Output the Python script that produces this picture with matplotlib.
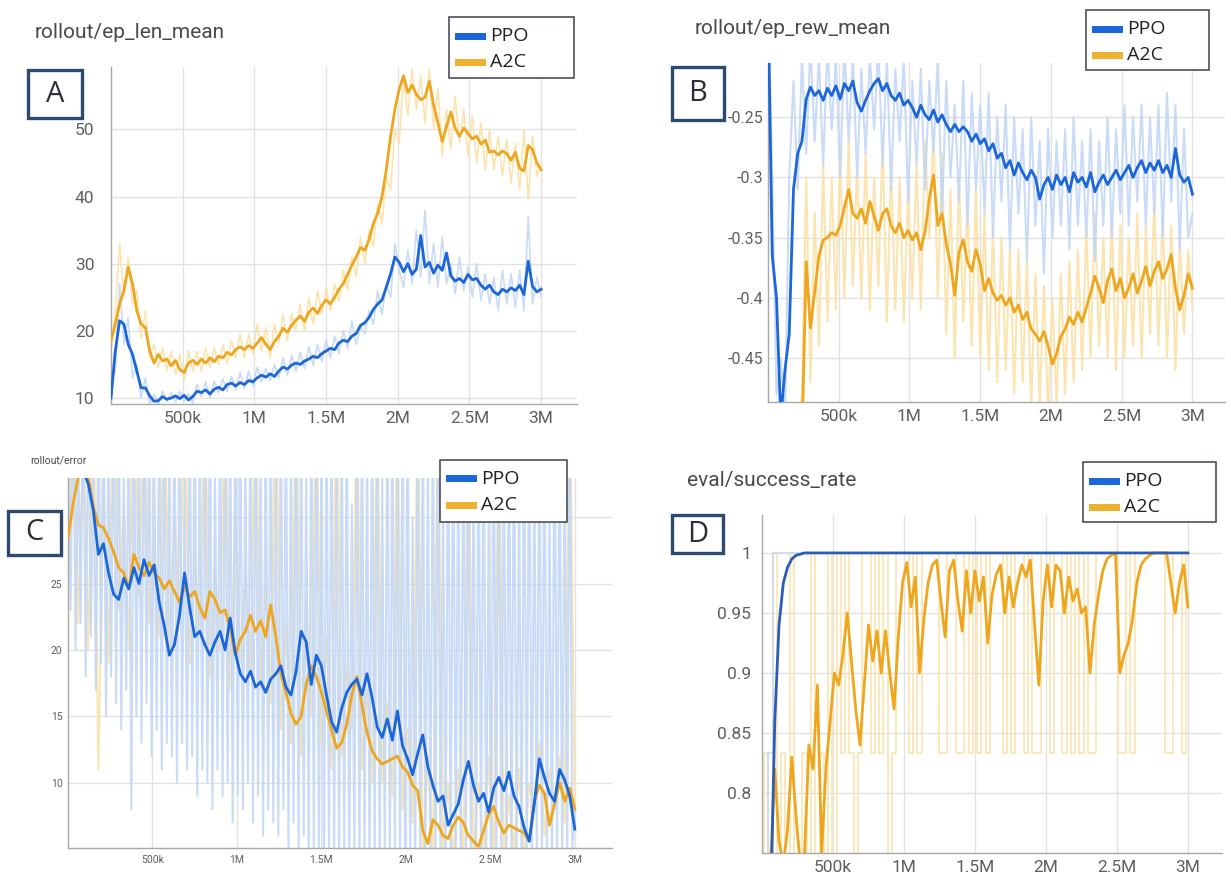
import numpy as np
import matplotlib.pyplot as plt
from matplotlib.patches import Rectangle

LAST_STEP = 3_000_000

# --- A: rollout/ep_len_mean (samples every 30k steps) ---
ep_len_ppo = [10, 17, 21.5, 21, 18, 16.5, 14, 11.5, 11.5, 10.3, 9.5, 9.6, 10.2, 9.8, 10.0, 10.3, 9.9,
              10.4, 9.7, 10.2, 11.0, 10.8, 11.2, 10.6, 11.3, 11.6, 11.2, 12.0, 12.2, 11.8, 12.3, 12.0,
              12.6, 12.4, 13.0, 13.4, 13.1, 13.6, 13.2, 14.0, 14.6, 14.3, 14.9, 15.2, 15.0, 15.5, 15.8,
              16.2, 16.0, 16.6, 17.0, 17.4, 17.2, 18.2, 18.6, 18.4, 19.2, 19.6, 20.8, 21.2, 22.0, 23.2,
              24.0, 24.6, 26.5, 28.5, 31.0, 30.2, 28.8, 30.0, 28.4, 29.2, 34.2, 29.5, 30.2, 28.6, 29.8,
              29.0, 31.6, 28.2, 27.4, 27.8, 27.2, 28.4, 27.6, 27.8, 26.8, 26.2, 26.8, 25.8, 25.4, 26.2,
              25.8, 26.4, 26.0, 26.8, 25.4, 30.4, 26.6, 25.8, 26.2]
ep_len_ppo_raw = [12, 14, 27, 18, 22, 13, 15, 10, 13, 9, 10.5, 9, 11, 9.5, 10.8, 9.4, 11, 9.6, 10.6, 9.2,
                  12, 10.2, 12.4, 10, 12.5, 10.8, 12.8, 11, 13.2, 11.2, 13.8, 11.4, 14, 11.8, 14.6, 12.4,
                  14.4, 12.6, 15, 13, 16, 13.4, 16.4, 14, 16.8, 14.4, 17.6, 14.8, 18, 15.4, 18.6, 16, 19.2,
                  16.6, 20, 17.4, 21.5, 18, 20.6, 19.6, 23, 21, 26, 22.4, 27, 25, 33, 29, 26.5, 32, 27, 35,
                  28, 38, 27, 33, 26.5, 34, 27, 30, 25.5, 31, 26, 29.5, 25, 30, 24.5, 28.5, 24, 28, 23, 29,
                  24, 28.5, 23.5, 29, 23, 37, 24, 28, 25]
ep_len_a2c = [18.5, 21, 24, 26, 29.5, 27, 23, 21, 20.5, 17, 15.2, 16.5, 15.5, 15.8, 14.8, 15.6, 14.2,
              13.8, 15.2, 15.6, 15.0, 15.8, 15.2, 16.0, 15.4, 16.2, 16.0, 16.8, 16.4, 17.2, 17.6, 17.2,
              17.8, 17.4, 18.2, 19.0, 18.0, 17.2, 18.4, 19.2, 20.4, 19.8, 20.8, 21.6, 22.2, 21.4, 22.8,
              23.4, 22.6, 23.8, 24.6, 24.0, 25.0, 26.2, 27.0, 28.4, 29.8, 31.0, 32.4, 32.0, 33.6, 36.0,
              37.5, 40.0, 44.0, 49.0, 53.0, 56.0, 58.0, 55.5, 56.6, 55.2, 54.4, 54.8, 57.2, 53.6, 51.0,
              48.2, 50.4, 52.6, 50.2, 49.0, 50.2, 49.4, 48.6, 49.0, 47.8, 48.4, 46.6, 46.8, 46.2, 46.8,
              46.4, 45.4, 46.6, 44.2, 43.8, 47.6, 47.0, 45.0, 44.0]
ep_len_a2c_raw = [17, 23, 33, 25, 31, 24, 26, 19, 23, 16, 18, 14.5, 17.5, 14, 17, 13.5, 16.5, 12.5, 17, 14,
                  17, 14, 17.5, 14.5, 17.5, 15, 18, 15, 18.5, 16, 19.5, 16, 19.5, 16.5, 21, 17, 20.5, 16,
                  21, 18, 22.5, 18.5, 22.5, 20, 24, 20, 25, 21, 26, 22.5, 26.5, 23, 27, 24.5, 29, 26, 31,
                  28, 34, 30, 35, 32.5, 39, 36, 43, 41, 50, 48, 58, 52, 59, 53, 58, 51, 59, 50, 56, 46, 53,
                  47, 55, 48, 53, 46, 52, 45, 51, 44, 50, 44, 49, 43, 48.5, 42, 48, 41, 50, 39.5, 49, 43, 45]

# --- B: rollout/ep_rew_mean ---
ep_rew_ppo = [-0.15, -0.365, -0.40, -0.50, -0.46, -0.43, -0.31, -0.28, -0.27, -0.235, -0.225, -0.232,
              -0.228, -0.236, -0.226, -0.232, -0.224, -0.235, -0.222, -0.228, -0.220, -0.238, -0.245,
              -0.236, -0.228, -0.222, -0.218, -0.228, -0.222, -0.232, -0.236, -0.230, -0.240, -0.236,
              -0.242, -0.250, -0.240, -0.248, -0.252, -0.244, -0.254, -0.248, -0.256, -0.262, -0.256,
              -0.262, -0.258, -0.262, -0.270, -0.264, -0.272, -0.268, -0.278, -0.272, -0.284, -0.280,
              -0.292, -0.286, -0.298, -0.288, -0.296, -0.302, -0.294, -0.300, -0.318, -0.306, -0.300,
              -0.310, -0.298, -0.306, -0.300, -0.312, -0.296, -0.304, -0.300, -0.308, -0.296, -0.312,
              -0.304, -0.298, -0.306, -0.300, -0.294, -0.302, -0.296, -0.290, -0.300, -0.292, -0.286,
              -0.296, -0.288, -0.294, -0.286, -0.296, -0.290, -0.300, -0.276, -0.298, -0.304, -0.300, -0.314]
ep_rew_ppo_raw = [-0.15, -0.30, -0.48, -0.45, -0.50, -0.30, -0.22, -0.31, -0.20, -0.28, -0.19, -0.27,
                  -0.20, -0.29, -0.19, -0.26, -0.20, -0.30, -0.19, -0.27, -0.20, -0.30, -0.21, -0.28,
                  -0.20, -0.26, -0.19, -0.29, -0.20, -0.31, -0.21, -0.27, -0.20, -0.32, -0.22, -0.29,
                  -0.21, -0.31, -0.22, -0.28, -0.20, -0.33, -0.22, -0.30, -0.24, -0.32, -0.22, -0.34,
                  -0.23, -0.31, -0.24, -0.33, -0.23, -0.35, -0.25, -0.32, -0.24, -0.36, -0.25, -0.33,
                  -0.26, -0.37, -0.25, -0.34, -0.27, -0.38, -0.26, -0.35, -0.27, -0.34, -0.26, -0.36,
                  -0.25, -0.34, -0.27, -0.35, -0.26, -0.37, -0.27, -0.34, -0.25, -0.35, -0.26, -0.33,
                  -0.24, -0.34, -0.25, -0.32, -0.24, -0.34, -0.25, -0.33, -0.24, -0.35, -0.23, -0.32,
                  -0.24, -0.36, -0.26, -0.35, -0.33]
ep_rew_a2c = [-0.60, -0.60, -0.60, -0.60, -0.60, -0.60, -0.58, -0.55, -0.52, -0.37, -0.425, -0.395,
              -0.365, -0.352, -0.350, -0.346, -0.348, -0.340, -0.325, -0.310, -0.330, -0.334, -0.326,
              -0.338, -0.320, -0.332, -0.344, -0.330, -0.326, -0.340, -0.346, -0.338, -0.350, -0.344,
              -0.352, -0.346, -0.360, -0.345, -0.318, -0.298, -0.340, -0.330, -0.355, -0.372, -0.398,
              -0.362, -0.352, -0.370, -0.378, -0.360, -0.372, -0.394, -0.384, -0.396, -0.402, -0.398,
              -0.406, -0.400, -0.412, -0.406, -0.418, -0.412, -0.426, -0.430, -0.436, -0.428, -0.440,
              -0.455, -0.446, -0.432, -0.426, -0.416, -0.422, -0.412, -0.420, -0.408, -0.396, -0.382,
              -0.392, -0.404, -0.386, -0.376, -0.394, -0.384, -0.400, -0.392, -0.380, -0.396, -0.386,
              -0.374, -0.390, -0.378, -0.370, -0.384, -0.376, -0.364, -0.392, -0.410, -0.398, -0.380, -0.392]
ep_rew_a2c_raw = [-0.60, -0.60, -0.60, -0.60, -0.60, -0.60, -0.60, -0.50, -0.48, -0.30, -0.47, -0.33,
                  -0.44, -0.29, -0.42, -0.30, -0.41, -0.28, -0.40, -0.27, -0.39, -0.29, -0.40, -0.28,
                  -0.41, -0.30, -0.39, -0.27, -0.42, -0.29, -0.41, -0.30, -0.42, -0.31, -0.40, -0.29,
                  -0.41, -0.27, -0.35, -0.26, -0.40, -0.28, -0.43, -0.31, -0.45, -0.30, -0.42, -0.32,
                  -0.44, -0.31, -0.45, -0.33, -0.46, -0.34, -0.47, -0.35, -0.46, -0.36, -0.48, -0.36,
                  -0.47, -0.37, -0.49, -0.38, -0.49, -0.39, -0.50, -0.40, -0.49, -0.38, -0.48, -0.37,
                  -0.47, -0.36, -0.46, -0.34, -0.45, -0.33, -0.44, -0.35, -0.45, -0.33, -0.46, -0.34,
                  -0.45, -0.35, -0.44, -0.33, -0.45, -0.34, -0.43, -0.32, -0.44, -0.33, -0.45, -0.34,
                  -0.46, -0.35, -0.43, -0.36, -0.41]

# --- C: rollout/error ---
error_ppo = [36, 34, 34, 33.5, 32.5, 30.5, 27.2, 28.0, 25.8, 24.2, 23.8, 25.4, 24.6, 26.2, 25.0, 26.8,
             25.6, 26.4, 23.6, 21.8, 19.6, 20.4, 22.6, 25.8, 23.2, 21.0, 21.4, 20.4, 19.6, 20.6, 21.4,
             20.0, 22.4, 19.8, 18.2, 17.6, 18.4, 17.2, 17.6, 16.8, 17.8, 18.2, 18.8, 17.2, 16.6, 18.4,
             21.4, 20.6, 17.4, 19.6, 18.8, 16.6, 14.6, 13.8, 15.6, 16.8, 17.4, 17.8, 16.6, 18.2, 16.4,
             14.2, 13.4, 14.8, 13.2, 15.4, 12.8, 11.8, 10.6, 12.2, 13.6, 11.2, 9.8, 8.6, 9.0, 6.8, 7.6,
             8.4, 10.2, 11.6, 9.8, 8.6, 9.2, 7.8, 9.6, 10.4, 9.4, 10.8, 9.0, 8.2, 6.6, 5.6, 8.4, 11.8,
             10.4, 9.2, 8.6, 11.0, 10.2, 9.0, 6.5]
# raw error for PPO is logged twice as often (every 15k steps)
error_ppo_raw = [40, 23, 40, 20, 36, 22, 40, 18, 40, 21, 34, 17, 40, 19, 40, 15, 37, 18, 40, 16,
                 40, 14, 33, 17, 40, 8, 40, 15, 38, 13, 40, 16, 40, 12, 35, 14, 40, 11, 40, 13,
                 36, 12, 40, 10, 40, 13, 33, 11, 40, 12, 40, 9, 37, 11, 40, 10, 40, 8, 34, 11,
                 40, 9, 40, 10, 38, 7, 40, 9, 40, 8, 35, 10, 40, 7, 40, 9, 36, 6, 40, 8,
                 40, 7, 33, 6, 40, 8, 40, 5, 37, 7, 40, 4, 40, 6, 34, 4, 40, 5, 40, 4,
                 38, 3, 40, 5, 40, 4, 35, 3, 40, 4, 40, 3, 31, 4, 40, 3, 40, 4, 36, 3,
                 40, 4, 40, 3, 33, 4, 40, 3, 40, 4, 37, 3, 40, 3, 40, 4, 30, 3, 40, 4,
                 40, 3, 35, 4, 40, 3, 40, 4, 32, 3, 40, 3, 40, 4, 36, 3, 40, 4, 40, 3,
                 34, 4, 40, 3, 40, 4, 30, 3, 40, 4, 40, 3, 37, 4, 40, 3, 40, 4, 33, 3,
                 40, 4, 40, 3, 35, 4, 40, 3, 40, 4, 31, 3, 40, 4, 40, 3, 36, 4, 40, 5, 8]
error_a2c = [28.4, 31, 33, 34, 33, 30.8, 29.4, 29.2, 28.4, 27.4, 26.2, 25.8, 24.6, 27.2, 26.2, 25.6,
             26.6, 25.8, 25.4, 24.6, 25.2, 24.4, 23.6, 24.8, 24.0, 24.4, 23.2, 22.4, 24.4, 23.8, 22.8,
             23.0, 21.6, 19.6, 20.8, 21.4, 22.6, 21.4, 22.2, 21.0, 23.4, 21.0, 18.2, 16.8, 15.2, 14.4,
             15.0, 17.4, 18.8, 18.0, 16.8, 15.4, 14.0, 12.6, 13.0, 14.4, 16.6, 18.0, 15.8, 13.8, 12.4,
             11.8, 11.4, 11.6, 11.8, 12.0, 11.2, 10.8, 9.8, 9.4, 6.4, 5.4, 7.2, 6.8, 6.0, 5.8, 6.8, 7.4,
             7.0, 6.0, 5.6, 5.2, 6.4, 7.6, 8.2, 7.0, 6.2, 6.8, 6.6, 6.4, 6.2, 5.6, 8.6, 9.8, 9.2, 6.8,
             8.4, 10.0, 8.6, 9.6, 8.0]
error_a2c_raw = [25, 40, 22, 36, 20, 40, 11, 33, 19, 40, 23, 31, 20, 40, 24, 38, 22, 29, 21, 40, 20, 30,
                 22, 40, 19, 27, 21, 40, 18, 26, 20, 40, 17, 30, 19, 26, 18, 40, 17, 25, 16, 40, 14, 22,
                 13, 40, 12, 24, 15, 40, 13, 21, 11, 40, 12, 19, 14, 40, 11, 17, 10, 40, 10, 16, 9, 40, 8,
                 14, 7, 40, 4, 12, 4, 40, 5, 10, 4, 11, 4, 40, 4, 10, 5, 12, 4, 40, 4, 9, 5, 11, 4, 10, 8,
                 13, 6, 11, 8, 12, 7, 40, 8]

# --- D: eval/success_rate ---
success_ppo = [0.5, 0.55, 0.70, 0.86, 0.94, 0.975, 0.988, 0.995, 0.998, 0.999] + [1.0] * 91
success_ppo_raw = [0.0, 0.5, 0.833] + [1.0] * 98
success_a2c = [0.60, 0.70, 0.74, 0.82, 0.76, 0.74, 0.77, 0.83, 0.78, 0.74, 0.75, 0.84, 0.82, 0.89, 0.75,
               0.82, 0.86, 0.90, 0.89, 0.915, 0.95, 0.91, 0.87, 0.84, 0.89, 0.94, 0.91, 0.935, 0.90,
               0.935, 0.90, 0.87, 0.93, 0.975, 0.992, 0.955, 0.98, 0.90, 0.945, 0.975, 0.99, 0.994, 0.96,
               0.93, 0.985, 0.994, 0.96, 0.935, 0.985, 0.95, 0.985, 0.96, 0.98, 0.925, 0.965, 0.982,
               0.99, 0.95, 0.98, 0.955, 0.975, 0.99, 0.98, 0.994, 0.94, 0.89, 0.96, 0.99, 0.955, 0.99,
               0.985, 0.95, 0.98, 0.96, 0.97, 0.95, 0.955, 0.90, 0.94, 0.965, 0.985, 0.995, 0.998, 1.0,
               0.90, 0.915, 0.925, 0.945, 0.975, 0.99, 0.995, 0.998, 1.0, 1.0, 1.0, 1.0, 0.975, 0.95,
               0.975, 0.99, 0.955]
success_a2c_raw = [0.5, 0.833, 0.5, 1.0, 0.6, 0.833, 0.5, 1.0, 0.5, 0.6, 0.833, 0.5, 1.0, 0.5, 0.833, 0.5,
                   1.0, 0.667, 1.0, 0.833, 1.0, 0.833, 0.5, 0.833, 1.0, 1.0, 0.833, 1.0, 0.833, 1.0, 0.667,
                   0.833, 1.0, 1.0, 1.0, 0.833, 1.0, 0.833, 1.0, 1.0, 1.0, 1.0, 0.833, 0.833, 1.0, 1.0,
                   0.833, 0.833, 1.0, 0.833, 1.0, 0.833, 1.0, 0.833, 1.0, 1.0, 1.0, 0.833, 1.0, 0.833, 1.0,
                   1.0, 0.833, 1.0, 0.833, 0.833, 1.0, 1.0, 0.833, 1.0, 1.0, 0.833, 1.0, 0.833, 1.0, 0.833,
                   1.0, 0.833, 0.833, 1.0, 1.0, 1.0, 1.0, 1.0, 0.833, 0.833, 1.0, 0.833, 1.0, 1.0, 1.0,
                   1.0, 1.0, 1.0, 1.0, 0.833, 0.833, 1.0, 1.0, 0.833, 1.0]

x_ticks = [500_000, 1_000_000, 1_500_000, 2_000_000, 2_500_000, 3_000_000]
x_tick_labels = ['500k', '1M', '1.5M', '2M', '2.5M', '3M']
run_names = ['PPO', 'A2C']

BLUE = '#1b66d8'
BLUE_RAW = '#c3d7f6'
ORANGE = '#eea61e'
ORANGE_RAW = '#fbe2a8'
GRID = '#e2e2e2'
TICK = '#5f5f5f'
NAVY = '#2d4a6e'

W, H = 1231, 876
fig = plt.figure(figsize=(W / 100, H / 100), dpi=100)


def fx(px):
    return px / W


def fy(py):
    return 1 - py / H


def steps(vals):
    return np.linspace(0, LAST_STEP, len(vals))


def make_panel(box, xmax, ylim, yticks, ylabels, ppo, ppo_raw, a2c, a2c_raw,
               tick_size=12.5, ytick_size=None, ypad=8, ppo_color=BLUE, raw_lw=1.2,
               raw_style='default'):
    left, top, right, bottom = box
    ax = fig.add_axes([fx(left), fy(bottom), fx(right - left), (bottom - top) / H])
    ax.plot(steps(a2c_raw), a2c_raw, color=ORANGE_RAW, lw=raw_lw, alpha=0.9, zorder=1,
            drawstyle=raw_style)
    ax.plot(steps(ppo_raw), ppo_raw, color=BLUE_RAW, lw=raw_lw, alpha=0.9, zorder=2,
            drawstyle=raw_style)
    ax.plot(steps(a2c), a2c, color=ORANGE, lw=2.0, zorder=3)
    ax.plot(steps(ppo), ppo, color=ppo_color, lw=2.0, zorder=4)
    ax.set_xlim(0, xmax)
    ax.set_ylim(*ylim)
    ax.set_xticks(x_ticks)
    ax.set_xticklabels(x_tick_labels)
    ax.set_yticks(yticks)
    ax.set_yticklabels(ylabels)
    ax.grid(True, color=GRID, lw=1)
    ax.set_axisbelow(True)
    for s in ['top', 'right']:
        ax.spines[s].set_visible(False)
    for s in ['left', 'bottom']:
        ax.spines[s].set_color('#a8a8a8')
        ax.spines[s].set_linewidth(1)
    ax.tick_params(axis='x', length=0, pad=5, labelsize=tick_size, labelcolor=TICK)
    ax.tick_params(axis='y', length=0, pad=ypad, labelsize=ytick_size or tick_size,
                   labelcolor=TICK)
    for lab in ax.get_xticklabels() + ax.get_yticklabels():
        lab.set_fontfamily('Roboto')
    return ax


def legend_box(x0, y0, x1, y1):
    fig.add_artist(Rectangle((fx(x0), fy(y1)), fx(x1 - x0), (y1 - y0) / H, transform=fig.transFigure,
                             facecolor='white', edgecolor='#3a4150', lw=1.1, zorder=20))
    for row, (name, col) in enumerate(zip(run_names, [BLUE, '#f0b030'])):
        yc = y0 + 19 + row * 26
        fig.add_artist(Rectangle((fx(x0 + 6), fy(yc + 3.5)), fx(31), 7 / H, transform=fig.transFigure,
                                 facecolor=col, edgecolor='none', zorder=21))
        fig.text(fx(x0 + 41), fy(yc), name, fontsize=14, family='Open Sans', color='#222222',
                 va='center', ha='left', zorder=22)


def letter_box(x0, y0, x1, y1, letter):
    fig.add_artist(Rectangle((fx(x0), fy(y1)), fx(x1 - x0), (y1 - y0) / H, transform=fig.transFigure,
                             facecolor='white', edgecolor=NAVY, lw=2.4, zorder=30))
    fig.text(fx((x0 + x1) / 2), fy((y0 + y1) / 2), letter, ha='center', va='center',
             fontsize=21, color='#2a2f3a', family='Open Sans', zorder=31)


def title(x, y, text, size=15):
    fig.text(fx(x), fy(y), text, fontsize=size, color='#4a4a4a', family='Roboto', va='center')


# panel A
make_panel((111, 67, 577, 404), 3.25e6, (9.1, 59.3), [10, 20, 30, 40, 50],
           ['10', '20', '30', '40', '50'], ep_len_ppo, ep_len_ppo_raw, ep_len_a2c, ep_len_a2c_raw,
           ypad=12)
title(35, 32, 'rollout/ep_len_mean')
legend_box(449, 17, 574, 78)
letter_box(28, 70, 82, 118, 'A')

# panel B
make_panel((768, 63, 1225, 402), 3.23e6, (-0.4865, -0.205), [-0.45, -0.4, -0.35, -0.3, -0.25],
           ['-0.45', '-0.4', '-0.35', '-0.3', '-0.25'], ep_rew_ppo, ep_rew_ppo_raw, ep_rew_a2c,
           ep_rew_a2c_raw, ytick_size=11.5, ypad=3, raw_lw=1.5)
title(695, 28, 'rollout/ep_rew_mean')
legend_box(1086, 10, 1209, 70)
letter_box(672, 67, 724, 120, 'B')

# panel C
make_panel((68, 478, 612, 848), 3.22e6, (5.08, 32.95), [10, 15, 20, 25, 30],
           ['10', '15', '20', '25', '30'], error_ppo, error_ppo_raw, error_a2c, error_a2c_raw,
           tick_size=7.5, ypad=4, raw_lw=1.5)
title(30, 460, 'rollout/error', size=7.5)
legend_box(440, 460, 567, 522)
letter_box(8, 511, 61, 555, 'C')

# panel D
make_panel((762, 515, 1222, 853), 3.24e6, (0.750, 1.0316), [0.8, 0.85, 0.9, 0.95, 1.0],
           ['0.8', '0.85', '0.9', '0.95', '1'], success_ppo, success_ppo_raw, success_a2c,
           success_a2c_raw, ypad=8, ppo_color='#2a5cb8', raw_lw=1.2, raw_style='steps-mid')
title(687, 480, 'eval/success_rate')
legend_box(1083, 462, 1216, 522)
letter_box(672, 515, 723, 553, 'D')

fig.savefig('out.png', dpi=100)
